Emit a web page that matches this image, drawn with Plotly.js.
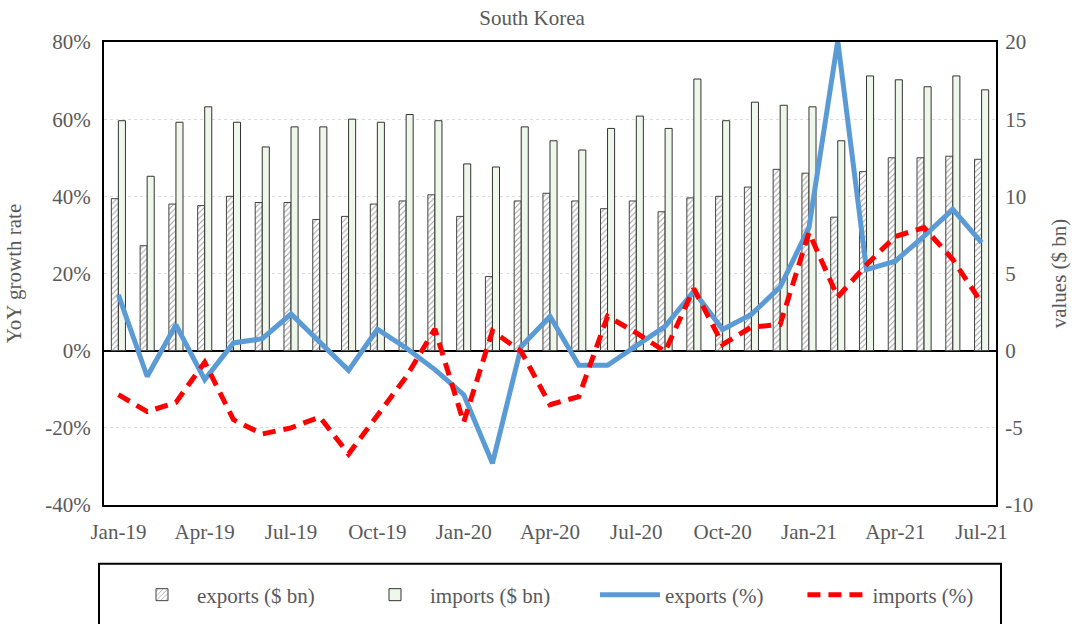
<!DOCTYPE html>
<html>
<head>
<meta charset="utf-8">
<script src="https://cdn.plot.ly/plotly-3.0.1.min.js"></script>
<style>html,body{margin:0;padding:0;background:#fff;}#chart{width:1078px;height:624px;}</style>
</head>
<body>
<div id="chart"></div>
<script>
const months = ["Jan-19","Feb-19","Mar-19","Apr-19","May-19","Jun-19","Jul-19","Aug-19","Sep-19","Oct-19","Nov-19","Dec-19",
  "Jan-20","Feb-20","Mar-20","Apr-20","May-20","Jun-20","Jul-20","Aug-20","Sep-20","Oct-20","Nov-20","Dec-20",
  "Jan-21","Feb-21","Mar-21","Apr-21","May-21","Jun-21","Jul-21"];
const exportsBn = [9.85,6.8,9.5,9.4,10.0,9.6,9.6,8.5,8.7,9.5,9.7,10.1,
  8.7,4.8,9.7,10.2,9.7,9.2,9.7,9.0,9.9,10.0,10.6,11.75,
  11.5,8.65,11.6,12.5,12.5,12.6,12.4];
const importsBn = [14.9,11.3,14.8,15.8,14.8,13.2,14.5,14.5,15.0,14.8,15.3,14.9,
  12.1,11.9,14.5,13.6,13.0,14.4,15.2,14.4,17.6,14.9,16.1,15.9,
  15.8,13.6,17.8,17.55,17.1,17.8,16.9];
const exportsPct = [14.5,-6.7,6.7,-7.5,2.0,3.1,9.5,2.0,-5.1,5.6,0.7,-4.9,
  -11.4,-29.2,1.1,8.9,-3.8,-3.8,1.1,6.3,15.4,5.5,9.4,16.5,
  31.9,80.3,21.0,23.2,29.7,36.6,28.0];
const importsPct = [-11.4,-15.8,-13.4,-3.0,-17.9,-21.6,-20.0,-17.2,-26.8,-17.0,-6.8,5.6,
  -18.6,5.1,-0.2,-14.0,-11.9,8.9,4.6,-0.2,16.1,1.6,6.1,6.8,
  30.6,13.9,22.3,29.6,31.9,23.6,12.4];
const xTicks = ["Jan-19","Apr-19","Jul-19","Oct-19","Jan-20","Apr-20","Jul-20","Oct-20","Jan-21","Apr-21","Jul-21"];
const pctTickVals = [-40,-20,0,20,40,60,80];
const pctTickText = ["-40%","-20%","0%","20%","40%","60%","80%"];
const bnTickVals = [-10,-5,0,5,10,15,20];
const bnTickText = ["-10","-5","0","5","10","15","20"];

const FONT = "Liberation Serif, Times New Roman, serif";
const GREY = "#595959";
const FS = 21;

const traces = [
  {type:"bar", name:"exports ($ bn)", x:months, y:exportsBn, yaxis:"y", legend:"legend",
   marker:{color:"#ffffff", pattern:{shape:"/", fgcolor:"#a0a0a0", bgcolor:"#ffffff", size:4, solidity:0.25},
     line:{color:"#444", width:1}}},
  {type:"bar", name:"imports ($ bn)", x:months, y:importsBn, yaxis:"y", legend:"legend2",
   marker:{color:"#eff6ea", line:{color:"#333", width:1}}},
  {type:"scatter", mode:"lines", name:"exports (%)", x:months, y:exportsPct, yaxis:"y2", legend:"legend3",
   line:{color:"#5b9bd5", width:5}},
  {type:"scatter", mode:"lines", name:"imports (%)", x:months, y:importsPct, yaxis:"y2", legend:"legend4",
   line:{color:"#ff0000", width:5, dash:"13px,8px"}}
];

function leg(x){
  return {orientation:"h", x:x, xanchor:"left", y:-0.1944, yanchor:"middle",
    font:{family:FONT, size:FS, color:GREY}, bgcolor:"rgba(0,0,0,0)", borderwidth:0, itemwidth:60};
}

const layout = {
  width:1078, height:624,
  margin:{l:104, r:82, t:42, b:119, autoexpand:false},
  paper_bgcolor:"#fff", plot_bgcolor:"#fff",
  font:{family:FONT, color:GREY, size:FS},
  title:{text:"South Korea", font:{family:FONT, size:FS, color:GREY}, x:0.4935, xref:"container", y:0.971, yref:"container", yanchor:"middle", xanchor:"center"},
  barmode:"group", bargap:0.51, bargroupgap:0,
  showlegend:true,
  legend:leg(0.0258), legend2:leg(0.2870), legend3:leg(0.5504), legend4:leg(0.7830),
  xaxis:{type:"category", tickmode:"array", tickvals:xTicks, ticktext:xTicks,
    showgrid:false, ticks:"", showline:true, mirror:true, linecolor:"#000", linewidth:2,
    tickfont:{family:FONT, size:FS, color:GREY}, ticklabelstandoff:7, automargin:false},
  yaxis:{side:"right", range:[-10,20], tickmode:"array", tickvals:bnTickVals, ticktext:bnTickText,
    showgrid:true, gridcolor:"#dcdcdc", griddash:"dot", gridwidth:1,
    zeroline:true, zerolinecolor:"#000", zerolinewidth:2,
    showline:true, linecolor:"#000", linewidth:2, ticks:"",
    tickfont:{family:FONT, size:FS, color:GREY}, ticklabelstandoff:3,
    title:{text:"values ($ bn)", font:{family:FONT, size:FS, color:GREY}, standoff:19}, automargin:false},
  yaxis2:{overlaying:"y", side:"left", range:[-40,80], tickmode:"array", tickvals:pctTickVals, ticktext:pctTickText,
    showgrid:false, zeroline:false, showline:true, linecolor:"#000", linewidth:2, ticks:"",
    tickfont:{family:FONT, size:FS, color:GREY}, ticklabelstandoff:7,
    title:{text:"YoY growth rate", font:{family:FONT, size:FS, color:GREY}, standoff:18}, automargin:false},
  shapes:[{type:"rect", xref:"paper", yref:"paper", x0:-0.0056, x1:1.0056, y0:-0.127, y1:-0.35,
    line:{color:"#000", width:2}, fillcolor:"rgba(0,0,0,0)", layer:"above"}]
};

Plotly.newPlot("chart", traces, layout, {displayModeBar:false, staticPlot:true});
</script>
</body>
</html>
